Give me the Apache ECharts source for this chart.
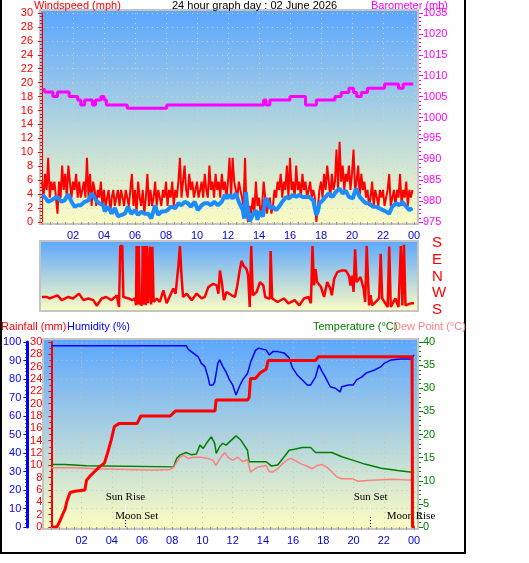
<!DOCTYPE html>
<html>
<head>
<meta charset="utf-8">
<script src="https://cdn.jsdelivr.net/npm/echarts@6/dist/echarts.min.js"></script>
<style>
html,body{margin:0;padding:0;background:#fff}
#chart{width:529px;height:563px}
</style>
</head>
<body>
<div id="chart"></div>
<script>
// wind gust (mph), one value every 6 minutes, one row per hour
var gustMph = [
  5.8,3.5,6.9,4.6,9.2,3.5,5.8,4.6,5.8,3.5,
  1.2,5.8,3.5,8.1,4.6,6.9,3.5,8.1,5.8,3.5,
  5.8,4.6,6.9,3.5,5.8,3.5,4.6,5.8,3.5,9.2,
  3.5,6.9,2.3,5.8,4.6,2.3,4.6,3.5,5.8,2.3,
  4.6,2.3,3.5,4.6,1.2,3.5,4.6,2.3,3.5,4.6,
  2.3,4.6,3.5,2.3,4.6,3.5,2.3,4.6,6.9,2.3,
  4.6,1.2,5.8,3.5,2.3,4.6,1.2,3.5,6.9,2.3,
  4.6,2.3,3.5,5.8,2.3,4.6,3.5,2.3,4.6,3.5,
  5.8,2.3,4.6,3.5,5.8,2.3,4.6,3.5,5.8,9.2,
  3.5,5.8,8.1,4.6,3.5,6.9,4.6,5.8,3.5,4.6,
  5.8,3.5,4.6,5.8,3.5,6.9,4.6,3.5,8.1,4.6,
  5.8,3.5,6.9,4.6,5.8,3.5,6.9,4.6,5.8,3.5,
  5.8,9.2,3.5,9.2,5.8,4.6,3.5,5.8,4.6,3.5,
  2.3,9.2,1.2,0,2.3,1.2,3.5,1.2,5.8,2.3,
  3.5,1.2,2.3,5.8,3.5,1.2,2.3,3.5,1.2,2.3,
  4.6,3.5,5.8,4.6,6.9,3.5,5.8,4.6,8.1,3.5,
  9.2,4.6,5.8,3.5,8.1,4.6,5.8,3.5,6.9,4.6,
  5.8,3.5,4.6,5.8,3.5,4.6,3.5,0,2.3,4.6,
  5.8,3.5,6.9,4.6,8.1,5.8,3.5,6.9,4.6,5.8,
  10.4,4.6,11.5,5.8,8.1,4.6,6.9,5.8,8.1,4.6,
  6.9,10.4,4.6,5.8,8.1,3.5,6.9,4.6,5.8,3.5,
  4.6,2.3,3.5,5.8,2.3,4.6,3.5,2.3,4.6,3.5,
  4.6,2.3,3.5,4.6,6.9,2.3,3.5,4.6,2.3,4.6,
  3.5,6.9,2.3,4.6,3.5,5.8,2.3,4.6,3.5,4.6
];
var gustStepHours = 0.1;

// average wind speed (mph) [hour, value]
var avgSpeed = [
  [0,3.9],[0.17,3.6],[0.4,2.9],[0.6,3.1],[0.8,3.4],[1.0,3.6],[1.25,2.9],[1.45,3.1],[1.7,4.0],[1.9,2.9],
  [2.1,2.2],[2.3,2.4],[2.5,2.4],[2.75,2.9],[3.0,3.1],[3.2,4.1],[3.3,4.3],[3.5,3.1],[3.7,2.7],[3.95,2.4],
  [4.05,1.5],[4.25,2.2],[4.5,1.2],[4.7,2.0],[4.9,0.8],[5.1,1.0],[5.35,1.2],[5.55,2.2],[5.75,1.2],[6.0,1.7],
  [6.2,1.0],[6.4,1.5],[6.6,1.2],[6.85,1.2],[7.05,0.5],[7.3,2.4],[7.5,1.0],[7.7,1.5],[7.9,1.5],[8.1,1.7],
  [8.3,2.2],[8.6,2.0],[8.8,2.7],[9.0,2.4],[9.2,2.9],[9.4,2.7],[9.6,2.2],[9.85,2.9],[10.05,1.7],[10.3,2.4],
  [10.5,2.7],[10.7,2.7],[10.9,2.4],[11.1,2.9],[11.35,2.4],[11.6,2.9],[11.8,3.9],[11.95,3.4],[12.1,3.9],[12.3,3.4],
  [12.5,4.1],[12.7,2.9],[12.95,1.7],[13.05,0.5],[13.15,4.3],[13.25,2.2],[13.4,0.1],[13.6,1.0],[13.8,1.7],[13.9,0.3],
  [14.0,1.5],[14.25,0.8],[14.4,3.1],[14.5,3.4],[14.7,2.0],[14.9,2.2],[15.1,1.7],[15.3,2.2],[15.5,2.9],[15.75,3.6],
  [15.95,3.4],[16.2,3.9],[16.4,3.6],[16.6,3.9],[16.8,3.6],[17.05,3.6],[17.25,3.6],[17.5,3.1],[17.6,2.0],[17.7,1.0],
  [17.8,1.5],[17.9,2.7],[18.1,3.1],[18.3,3.6],[18.5,4.1],[18.75,3.6],[18.95,4.3],[19.2,4.8],[19.4,4.1],[19.6,4.5],
  [19.8,3.6],[20.05,3.4],[20.25,4.8],[20.5,3.6],[20.7,3.1],[20.9,2.7],[21.1,2.7],[21.35,2.2],[21.55,2.2],[21.75,2.0],
  [22.0,1.7],[22.2,1.5],[22.4,1.2],[22.6,2.2],[22.85,2.7],[23.05,2.4],[23.25,2.9],[23.5,2.2],[23.7,1.7],[23.9,2.0]
];

// barometer (mb) [hour, value], drawn as steps
var baroMb = [
  [0.1,1007.0],[0.2,1006.1],[0.7,1005.0],[1.0,1006.1],[1.75,1005.0],[2.3,1004.2],[2.5,1003.0],[2.75,1004.2],
  [3.25,1003.0],[3.45,1004.2],[3.8,1005.0],[4.0,1004.2],[4.15,1003.0],[5.5,1002.2],[8.05,1003.0],[14.3,1004.2],
  [14.45,1003.0],[14.7,1004.2],[16.0,1005.0],[17.0,1003.0],[17.7,1004.2],[18.9,1005.0],[19.3,1006.0],[19.8,1007.0],
  [20.1,1006.0],[20.3,1005.0],[20.6,1006.0],[21.0,1007.0],[22.1,1008.0],[23.0,1007.0],[23.3,1008.0],[23.95,1008.0]
];

// wind direction (degrees, S at bottom = 180 ... S at top = 540) [hour, value]
var windDir = [
  [0,250],[0.3,250],[0.5,242],[1.0,259],[1.27,233],[1.7,250],[2.0,242],[2.39,268],[2.67,233],[2.99,242],
  [3.31,233],[3.53,203],[3.85,242],[4.13,250],[4.49,233],[4.82,259],[4.97,196],[5.05,524],[5.18,524],[5.25,250],
  [5.6,242],[5.8,233],[6.0,242],[6.07,205],[6.1,524],[6.17,210],[6.24,524],[6.3,216],[6.45,205],[6.5,524],
  [6.56,210],[6.62,524],[6.7,205],[6.77,524],[6.85,216],[6.97,520],[7.04,210],[7.12,520],[7.2,223],[7.4,242],
  [7.6,223],[7.83,286],[8.04,216],[8.32,268],[8.47,295],[8.62,268],[8.8,418],[8.9,524],[9.0,365],[9.1,250],
  [9.33,268],[9.66,233],[9.98,268],[10.3,242],[10.5,250],[10.73,303],[11.05,321],[11.27,312],[11.38,268],[11.48,392],
  [11.6,330],[11.74,233],[11.9,277],[12.24,259],[12.45,250],[12.6,312],[12.77,400],[12.88,444],[13.0,418],[13.2,400],
  [13.3,365],[13.4,196],[13.5,524],[13.6,259],[13.85,277],[14.06,330],[14.28,312],[14.4,250],[14.7,240],[14.75,497],
  [14.85,242],[15.2,223],[15.6,242],[15.9,216],[16.3,233],[16.6,205],[16.9,242],[17.2,250],[17.35,216],[17.45,524],
  [17.55,312],[17.65,400],[17.75,330],[18.0,303],[18.2,250],[18.4,330],[18.6,295],[18.7,259],[18.85,348],[19.05,383],
  [19.3,392],[19.6,392],[19.8,365],[19.9,312],[20.0,365],[20.1,277],[20.2,506],[20.3,330],[20.55,357],[20.75,295],
  [20.85,223],[20.95,524],[21.1,205],[21.2,259],[21.3,205],[21.75,242],[21.85,482],[21.95,242],[22.3,196],[22.4,521],
  [22.5,196],[22.8,242],[23.0,196],[23.15,524],[23.25,205],[23.35,530],[23.45,205],[23.8,216],[24.0,216]
];

// rainfall (mm, cumulative) [hour, value]
var rainMm = [
  [0.05,0],[0.37,0],[0.59,1.1],[0.74,2.0],[0.91,2.9],[1.02,4.1],[1.24,5.6],[1.57,5.8],[2.22,6.0],[2.33,7.6],
  [2.54,8.2],[2.87,9.0],[3.2,9.8],[3.52,10.4],[3.72,12.0],[3.96,14.1],[4.17,16.3],[4.5,16.8],[5.68,16.8],[5.92,18.0],
  [7.87,18.0],[8.2,18.8],[10.83,18.8],[10.9,20.6],[12.98,20.6],[13.09,21.0],[13.18,24.1],[13.5,24.1],[13.83,25.0],[14.22,25.6],
  [14.35,27.0],[17.48,27.0],[17.68,27.6],[23.87,27.6],[23.9,0],[24.05,0]
];

// humidity (%) [hour, value]
var humidity = [
  [0,98],[8.92,98],[9.07,96],[9.26,94.8],[9.72,92],[9.92,88.6],[10.16,86.7],[10.37,81],[10.48,76.8],[10.7,76.8],
  [10.81,78.5],[11.02,88.6],[11.14,90.3],[11.35,86.7],[11.55,84],[11.79,79.5],[12.0,76.8],[12.22,71.4],[12.44,75.8],[12.66,79.5],
  [12.98,83],[13.2,89.4],[13.52,95.6],[13.74,96.7],[14.22,95.6],[14.42,93],[14.66,94.8],[14.98,94.8],[15.41,94],[15.74,91.4],
  [15.96,86],[16.29,82],[16.61,79.5],[16.94,76.8],[17.16,76.8],[17.48,81],[17.7,87.6],[17.92,84],[18.13,81],[18.46,75.8],
  [18.79,75],[19.11,73],[19.22,75.8],[19.65,76.8],[19.98,76.8],[20.2,79.5],[20.53,81],[20.85,83.3],[21.4,84.9],[21.83,86.7],
  [22.05,88.6],[22.49,90.3],[23.14,90.8],[23.79,90.8],[24.0,93]
];

// temperature (°C) [hour, value]
var tempC = [
  [0,13.5],[0.91,13.5],[0.98,13.25],[2.33,13.25],[2.35,13.0],[8.09,13.0],[8.3,14.85],[8.53,15.6],[8.92,16.1],[9.28,15.6],
  [9.6,15.8],[9.83,17.7],[10.05,17.0],[10.26,18.1],[10.59,19.5],[10.81,18.1],[10.91,15.9],[11.14,17.4],[11.35,18.1],[11.57,17.7],
  [11.79,18.4],[12.22,19.7],[12.54,18.8],[12.98,16.6],[13.09,14.1],[14.22,14.1],[14.55,13.2],[14.98,13.4],[15.41,15.2],[15.74,16.6],
  [16.07,16.8],[16.61,17.2],[17.16,17.2],[17.48,16.1],[18.57,16.1],[19.22,15.2],[20.09,14.3],[20.74,13.6],[21.83,12.7],[22.92,12.2],
  [24.0,11.8]
];

// dew point (°C) [hour, value]
var dewC = [
  [0,12.8],[1.57,12.8],[1.63,12.6],[2.87,12.6],[2.93,12.3],[6.78,12.3],[6.85,12.45],[7.87,12.45],[8.09,12.9],[8.48,15.0],
  [8.74,15.5],[9.07,14.8],[9.39,15.1],[9.85,15.1],[10.37,14.8],[10.7,14.4],[10.89,13.3],[11.22,15.1],[11.48,16.1],[11.68,15.1],
  [12.0,14.4],[12.33,15.1],[12.66,14.1],[12.98,14.6],[13.18,11.9],[13.63,12.9],[14.22,13.3],[14.42,12.0],[14.66,11.9],[14.98,12.6],
  [15.31,13.7],[15.64,14.6],[15.85,14.8],[16.18,14.3],[16.5,13.7],[16.83,13.3],[17.27,12.6],[17.59,13.3],[17.92,13.5],[18.25,12.9],
  [18.57,11.9],[18.9,10.8],[19.22,10.45],[19.88,10.45],[20.31,9.9],[21.18,10.1],[22.49,10.35],[23.35,10.2],[24.0,10.1]
];

// sun / moon events
var eventNames = ['Sun Rise', 'Moon Set', 'Sun Set', 'Moon Rise'];
var eventHours = [4.9, 5.65, 21.13, 23.8];

// tick labels as printed on the picture
var dirTickLabels = ['S', 'W', 'N', 'E', 'S'];
var baroTickLabels = ['975','980','985','990','995','1000','1005','1010','1015','1020','1035'];
var tempTickLabels = ['0','5','10','15','20','35','30','35','40'];

var FONT = 'Liberation Sans';

function bgFill() {
  return new echarts.graphic.LinearGradient(0, 0, 0, 1, [
    { offset: 0, color: '#5aa6ff' },
    { offset: 1, color: '#fdfdc2' }
  ]);
}

function hourAxis(gi, showLabels, gridColor) {
  return {
    type: 'value', gridIndex: gi, min: 0, max: 24, interval: 2,
    axisLine: { show: false },
    axisTick: { show: showLabels, length: 3, lineStyle: { color: '#9a9a9a' } },
    minorTick: { show: showLabels, splitNumber: 4, length: 3, lineStyle: { color: '#9a9a9a' } },
    axisLabel: {
      show: showLabels, color: '#0000dd', fontSize: 11, fontFamily: FONT, margin: 8,
      showMinLabel: false,
      formatter: function (v) { var h = v % 24; return (h < 10 ? '0' : '') + h; }
    },
    splitLine: { show: !!gridColor, lineStyle: { color: gridColor || '#ccc', type: [1, 4], width: 1 } }
  };
}

function title(x, y, text, color) {
  return { type: 'text', x: x, y: y, silent: true,
    style: { text: text, fill: color, font: '11px ' + FONT, verticalAlign: 'top', align: 'left' } };
}

var chart = echarts.init(document.getElementById('chart'));

var markerLines = [];
eventNames.forEach(function (name, i) {
  var h = eventHours[i];
  var isSun = name.indexOf('Sun') === 0;
  var lblStyle = { show: true, position: 'end', distance: 1, formatter: name, color: '#000',
    fontFamily: 'Liberation Serif', fontSize: 11 };
  if (isSun) {
    markerLines.push([{ coord: [h, 5.4], lineStyle: { color: '#ffffff', width: 1, type: 'solid' }, label: lblStyle },
                      { coord: [h, 12.4] }]);
    markerLines.push([{ coord: [h, 0], lineStyle: { color: '#000', width: 1, type: [1, 2] }, label: { show: false } },
                      { coord: [h, 5.4] }]);
  } else {
    markerLines.push([{ coord: [h, 0], lineStyle: { color: '#ffffff', width: 1, type: 'solid' }, label: lblStyle },
                      { coord: [h, 2.2] }]);
  }
});
// "Moon Set" also printed in the time-axis row
markerLines.push([{ coord: [eventHours[1], 0], lineStyle: { opacity: 0 },
  label: { show: true, position: 'start', distance: 8, formatter: eventNames[1], color: '#0000dd',
    fontFamily: FONT, fontSize: 11 } }, { coord: [eventHours[1], 0.5] }]);

var option = {
  animation: false,
  backgroundColor: '#ffffff',
  textStyle: { fontFamily: FONT },
  grid: [
    { left: 42, top: 13, width: 372, height: 209 },
    { left: 42, top: 243, width: 372, height: 67 },
    { left: 46, top: 342, width: 368, height: 185 }
  ],
  xAxis: [
    hourAxis(0, true, 'rgba(210,210,210,0.9)'),
    hourAxis(1, false, null),
    hourAxis(2, true, 'rgba(210,190,165,0.9)')
  ],
  yAxis: [
    { type: 'value', gridIndex: 0, position: 'left', offset: 3, min: 0, max: 30, interval: 2,
      axisLine: { show: true, lineStyle: { color: '#ff0000', width: 1 } },
      axisTick: { show: true, length: 4, lineStyle: { color: '#ff0000' } },
      minorTick: { show: true, splitNumber: 4, length: 2, lineStyle: { color: '#ff0000' } },
      axisLabel: { color: '#ff0000', fontSize: 11, margin: 6 },
      splitLine: { show: true, lineStyle: { color: 'rgba(210,210,210,0.9)', type: [1, 4] } } },
    { type: 'value', gridIndex: 0, position: 'right', offset: 5, min: 975, max: 1025, interval: 5,
      axisLine: { show: false },
      axisTick: { show: true, length: 4, lineStyle: { color: '#ff00ff' } },
      minorTick: { show: true, splitNumber: 5, length: 2, lineStyle: { color: '#ff00ff' } },
      axisLabel: { color: '#ff00ff', fontSize: 11, margin: 4,
        formatter: function (v) { return baroTickLabels[Math.round((v - 975) / 5)]; } },
      splitLine: { show: false } },
    { type: 'value', gridIndex: 1, position: 'right', offset: 0, min: 180, max: 540, interval: 90,
      axisLine: { show: false }, axisTick: { show: false },
      axisLabel: { color: '#ff0000', fontSize: 15, margin: 18,
        formatter: function (v) { return dirTickLabels[Math.round((v - 180) / 90)]; } },
      splitLine: { show: false } },
    { type: 'value', gridIndex: 2, position: 'left', offset: 4, min: 0, max: 30, interval: 2,
      axisLine: { show: true, lineStyle: { color: '#ff0000', width: 2 } },
      axisTick: { show: true, length: 3, lineStyle: { color: '#ff0000' } },
      minorTick: { show: true, splitNumber: 2, length: 2, lineStyle: { color: '#ff0000' } },
      axisLabel: { color: '#ff0000', fontSize: 11, margin: 5 },
      splitLine: { show: false } },
    { type: 'value', gridIndex: 2, position: 'left', offset: 24, min: 0, max: 100, interval: 10,
      axisLine: { show: true, lineStyle: { color: '#0000ff', width: 3 } },
      axisTick: { show: true, length: 4, lineStyle: { color: '#0000ff' } },
      minorTick: { show: true, splitNumber: 5, length: 2, lineStyle: { color: '#0000ff' } },
      axisLabel: { color: '#0000ff', fontSize: 11, margin: 6 },
      splitLine: { show: true, lineStyle: { color: 'rgba(210,190,165,0.9)', type: [1, 4] } } },
    { type: 'value', gridIndex: 2, position: 'right', offset: 5, min: 0, max: 40, interval: 5,
      axisLine: { show: false },
      axisTick: { show: true, length: 4, lineStyle: { color: '#008000' } },
      minorTick: { show: true, splitNumber: 5, length: 2, lineStyle: { color: '#008000' } },
      axisLabel: { color: '#008000', fontSize: 11, margin: 4,
        formatter: function (v) { return tempTickLabels[Math.round(v / 5)]; } },
      splitLine: { show: false } }
  ],
  series: [
    { name: 'Gust', type: 'line', xAxisIndex: 0, yAxisIndex: 0, step: 'end', symbol: 'none',
      data: gustMph.map(function (v, i) { return [i * gustStepHours, v]; }),
      lineStyle: { color: '#ff0000', width: 2 }, z: 3 },
    { name: 'Windspeed', type: 'line', xAxisIndex: 0, yAxisIndex: 0, symbol: 'none', data: avgSpeed,
      lineStyle: { color: '#1a8cff', width: 4 }, z: 4 },
    { name: 'Barometer', type: 'line', xAxisIndex: 0, yAxisIndex: 1, step: 'end', symbol: 'none', data: baroMb,
      lineStyle: { color: '#ff00ff', width: 3 }, z: 5 },
    { name: 'Direction', type: 'line', xAxisIndex: 1, yAxisIndex: 2, symbol: 'none', data: windDir,
      lineStyle: { color: '#ff0000', width: 2.5 } },
    { name: 'Rainfall', type: 'line', xAxisIndex: 2, yAxisIndex: 3, symbol: 'none', data: rainMm,
      lineStyle: { color: '#ff0000', width: 3 }, z: 5 },
    { name: 'Humidity', type: 'line', xAxisIndex: 2, yAxisIndex: 4, symbol: 'none', data: humidity,
      lineStyle: { color: '#0000ff', width: 1.5 } },
    { name: 'Temperature', type: 'line', xAxisIndex: 2, yAxisIndex: 5, symbol: 'none', data: tempC,
      lineStyle: { color: '#008000', width: 1.5 } },
    { name: 'Dew Point', type: 'line', xAxisIndex: 2, yAxisIndex: 5, symbol: 'none', data: dewC,
      lineStyle: { color: '#ff8080', width: 1.5 } },
    { name: 'Events', type: 'line', xAxisIndex: 2, yAxisIndex: 4, data: [], silent: true,
      markLine: { silent: true, symbol: ['none', 'none'], animation: false, data: markerLines } }
  ],
  graphic: [
    { type: 'polyline', z: -10, silent: true, shape: { points: [[1, 0], [1, 553], [465, 553], [465, 0]] },
      style: { fill: null, stroke: '#000000', lineWidth: 2 } },
    { type: 'rect', z: -9, silent: true, shape: { x: 40, y: 10, width: 378, height: 214 },
      style: { fill: bgFill(), stroke: '#c4c4c4', lineWidth: 2 } },
    { type: 'rect', z: -9, silent: true, shape: { x: 40, y: 241, width: 378, height: 70 },
      style: { fill: bgFill(), stroke: '#c4c4c4', lineWidth: 2 } },
    { type: 'rect', z: -9, silent: true, shape: { x: 43, y: 339, width: 375, height: 190 },
      style: { fill: bgFill(), stroke: '#c4c4c4', lineWidth: 2 } },
    title(34, 0, 'Windspeed (mph)', '#ff0000'),
    title(172, 0, '24 hour graph day : 02 June 2026', '#000000'),
    title(371, 0, 'Barometer (mb)', '#ff00ff'),
    title(1, 321, 'Rainfall (mm)', '#ff0000'),
    title(67, 321, 'Humidity (%)', '#0000ff'),
    title(313, 321, 'Temperature (°C)', '#008000'),
    title(393, 321, 'Dew Point (°C)', '#ff8080')
  ]
};

chart.setOption(option);
</script>
</body>
</html>
